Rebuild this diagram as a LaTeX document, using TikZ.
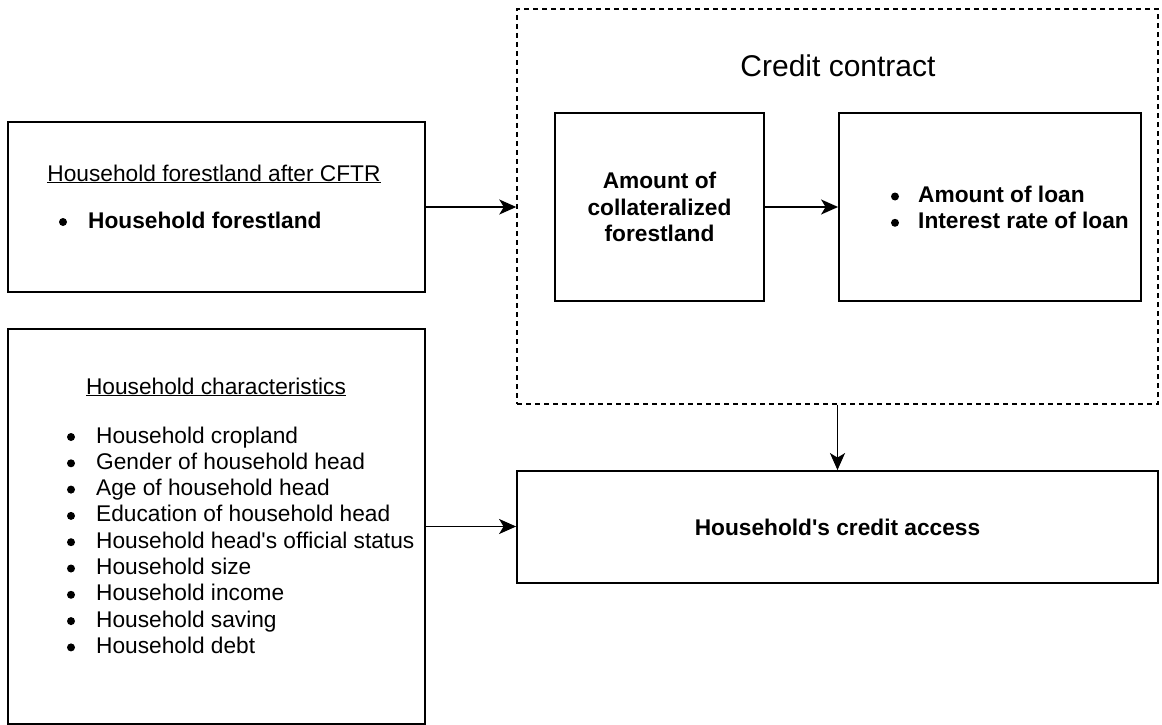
\documentclass[tikz,border=0pt]{standalone}
\usepackage{fontspec}
\setmainfont{Liberation Sans}[Ligatures=TeXOff]
\usetikzlibrary{arrows.meta}
\begin{document}
\begin{tikzpicture}[x=1pt,y=-1pt,
  every node/.style={font=\fontsize{22.7}{26.3}\selectfont},
  box/.style={draw=black, line width=1.8pt, inner sep=0pt, align=center},
  bfbox/.style={box, font=\fontsize{22.7}{26.3}\selectfont\bfseries},
  dashbox/.style={draw=black, line width=1.4pt, dash pattern=on 5pt off 4pt, inner sep=0pt},
  conn/.style={-{Stealth[length=17pt,width=15pt,inset=4.5pt]}, line width=1.8pt},
  lbl/.style={inner sep=0pt},
  bul/.style={fill=black},
]
\useasboundingbox (0,0) rectangle (1162,725);
% boxes
\node[box, minimum width=417pt, minimum height=170pt] (fl) at (216.5,207) {};
\node[box, minimum width=417pt, minimum height=395pt] (hc) at (216.5,526.5) {};
\node[dashbox, minimum width=641pt, minimum height=395pt] (cc) at (837.5,206.5) {};
\node[bfbox, minimum width=209pt, minimum height=188pt] (col) at (659.5,207) {Amount of\\collateralized\\forestland};
\node[box, minimum width=302pt, minimum height=188pt] (loan) at (990,207) {};
\node[bfbox, minimum width=641pt, minimum height=112pt] (acc) at (837.5,527) {Household's credit access};
% texts
\node[lbl, anchor=base] (flt) at (214,181) {\underline{Household forestland after CFTR}};
\node[lbl, anchor=base west] (fli) at (88,228) {\textbf{Household forestland}};
\node[lbl, anchor=base] (hct) at (216,394) {\underline{Household characteristics}};
\node[lbl, anchor=base west] (hci) at (96,443) {\begin{tabular}[t]{@{}l@{}}
Household cropland\\
Gender of household head\\
Age of household head\\
Education of household head\\
Household head's official status\\
Household size\\
Household income\\
Household saving\\
Household debt
\end{tabular}};
\node[lbl, anchor=base, font=\fontsize{30}{36}\selectfont] (cct) at (838,77) {Credit contract};
\node[lbl, anchor=base west, font=\fontsize{22.7}{26.3}\selectfont\bfseries] (loant) at (918,202) {\begin{tabular}[t]{@{}l@{}}
Amount of loan\\
Interest rate of loan
\end{tabular}};
% bullets
\fill[bul] (63,222) circle (4pt);
\foreach \i in {0,...,8} \fill[bul] (71,{437+26.3*\i}) circle (4pt);
\fill[bul] (895,196.5) circle (4pt);
\fill[bul] (895,222.8) circle (4pt);
% connectors
\draw[conn] (fl.east) -- (fl.east -| cc.west);
\draw[conn] (col) -- (loan);
\draw[conn] (cc.south) -- (acc.north);
\draw[conn] (hc.east) -- (hc.east -| acc.west);
\end{tikzpicture}
\end{document}
